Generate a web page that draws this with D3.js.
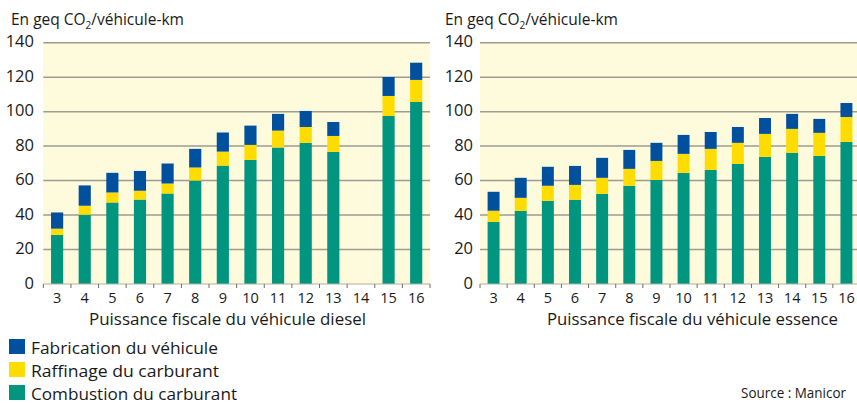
<!DOCTYPE html>
<html>
<head>
<meta charset="utf-8">
<script src="https://cdn.jsdelivr.net/npm/d3@7"></script>
<style>
  body { margin: 0; background: #fff; }
  svg { display: block; font-family: "Open Sans", "Noto Sans", sans-serif; }
</style>
</head>
<body>
<svg></svg>
<script>
// categories = puissance fiscale (CV)
let categories = ['3', '4', '5', '6', '7', '8', '9', '10', '11', '12', '13', '14', '15', '16']
let yTicks = [0, 20, 40, 60, 80, 100, 120, 140]

// diesel, geq CO2 / vehicule-km (no value for 14 CV)
let dieselCombustion = [28.5, 40.2, 47.3, 49.0, 52.5, 60.0, 68.7, 72.0, 79.2, 81.9, 76.7, 0, 97.5, 105.6]
let dieselRaffinage = [3.6, 5.2, 5.8, 5.1, 5.8, 7.6, 8.1, 8.7, 9.8, 9.2, 9.2, 0, 11.6, 12.8]
let dieselFabrication = [9.4, 11.8, 11.4, 11.5, 11.6, 10.8, 11.1, 11.2, 9.7, 9.3, 8.1, 0, 11.0, 10.0]

// essence
let essenceCombustion = [36.1, 42.5, 48.3, 48.9, 52.3, 57.0, 60.4, 64.5, 66.2, 69.7, 73.8, 76.1, 74.3, 82.4]
let essenceRaffinage = [6.4, 7.5, 8.7, 8.6, 9.3, 9.8, 11.0, 11.0, 12.2, 12.2, 13.3, 13.9, 13.4, 14.5]
let essenceFabrication = [11.0, 11.6, 11.0, 11.0, 11.6, 11.0, 10.5, 11.0, 9.8, 9.2, 9.2, 8.7, 8.1, 8.1]

let keys = ['combustion', 'raffinage', 'fabrication']
let colors = {combustion: '#00957f', raffinage: '#ffdc00', fabrication: '#00509e'}
let legendItems = [
    ['fabrication', 'Fabrication du véhicule', 187],
    ['raffinage', 'Raffinage du carburant', 188],
    ['combustion', 'Combustion du carburant', 206]
]

let width = 857
let height = 403
let plotTop = 42.7
let plotBottom = 284

let svg = d3.select('svg')
    .attr('width', width)
    .attr('height', height)

let drawChart = (comb, raff, fab, left, right, labelX, title, titleX, titleW) => {
    let rows = categories.map((c, i) => ({cat: c, combustion: comb[i], raffinage: raff[i], fabrication: fab[i]}))
    let stacked = d3.stack().keys(keys)(rows)

    let x = d3.scaleBand()
        .domain(categories)
        .range([left, right])
        .paddingInner(0.56)
        .paddingOuter(0.28)

    let y = d3.scaleLinear()
        .domain([0, 140])
        .range([plotBottom, plotTop])

    let g = svg.append('g')

    // background
    g.append('rect')
        .attr('x', left)
        .attr('y', y(140))
        .attr('width', right - left)
        .attr('height', y(0) - y(140))
        .attr('fill', '#fefadc')

    // grid
    g.selectAll('.grid')
        .data(yTicks.slice(1))
        .enter()
        .append('line')
        .attr('x1', left)
        .attr('x2', right)
        .attr('y1', (d) => y(d))
        .attr('y2', (d) => y(d))
        .attr('stroke', '#9d9b93')
        .attr('stroke-width', 1.5)

    // bars
    g.selectAll('.layer')
        .data(stacked)
        .enter()
        .append('g')
        .attr('fill', (d) => colors[d.key])
        .selectAll('rect')
        .data((d) => d)
        .enter()
        .append('rect')
        .attr('x', (d) => x(d.data.cat))
        .attr('width', x.bandwidth())
        .attr('y', (d) => y(d[1]))
        .attr('height', (d) => y(d[0]) - y(d[1]))

    // baseline + ticks at band edges
    g.append('line')
        .attr('x1', left).attr('x2', right)
        .attr('y1', y(0)).attr('y2', y(0))
        .attr('stroke', '#b5b09a')
        .attr('stroke-width', 1)
    g.selectAll('.edge')
        .data(d3.range(categories.length + 1))
        .enter()
        .append('line')
        .attr('x1', (i) => left + i * x.step())
        .attr('x2', (i) => left + i * x.step())
        .attr('y1', y(0))
        .attr('y2', y(0) + 4)
        .attr('stroke', '#6e6c66')
        .attr('stroke-width', 1)

    // x axis labels
    let xAxis = d3.axisBottom(x).tickSize(0).tickPadding(6)
    let xg = g.append('g')
        .attr('transform', `translate(0, ${y(0) + 3})`)
        .call(xAxis)
    xg.select('.domain').remove()
    xg.selectAll('text')
        .attr('font-size', 14.5)
        .attr('font-family', '"Open Sans", sans-serif')
        .attr('fill', '#1a1a1a')

    // y axis labels
    let yAxis = d3.axisLeft(y).tickValues(yTicks).tickSize(0).tickPadding(0)
    let yg = g.append('g')
        .attr('transform', `translate(${labelX}, -1)`)
        .call(yAxis)
    yg.select('.domain').remove()
    yg.selectAll('text')
        .attr('font-size', 16.5)
        .attr('font-family', '"Open Sans", sans-serif')
        .attr('fill', '#1a1a1a')

    // unit title
    let t = g.append('text')
        .attr('x', titleX)
        .attr('y', 25)
        .attr('font-size', 15.5)
        .attr('fill', '#1a1a1a')
    t.append('tspan').text('En geq CO')
    t.append('tspan').attr('font-size', 10).attr('dy', 4).text('2')
    t.append('tspan').attr('dy', -4).text('/véhicule-km')

    // axis title
    g.append('text')
        .attr('x', title[1])
        .attr('y', 325)
        .attr('font-size', 16.5)
        .attr('fill', '#1a1a1a')
        .attr('textLength', titleW)
        .attr('lengthAdjust', 'spacingAndGlyphs')
        .text(title[0])
}

drawChart(dieselCombustion, dieselRaffinage, dieselFabrication, 43.3, 430, 34,
    ['Puissance fiscale du véhicule diesel', 89], 11, 277)
drawChart(essenceCombustion, essenceRaffinage, essenceFabrication, 480, 860, 473,
    ['Puissance fiscale du véhicule essence', 547], 445, 291)

// legend
let legend = svg.append('g')
legendItems.forEach((item, i) => {
    legend.append('rect')
        .attr('x', 9)
        .attr('y', 339 + i * 23)
        .attr('width', 16)
        .attr('height', 15)
        .attr('fill', colors[item[0]])
    legend.append('text')
        .attr('x', 31)
        .attr('y', 353.5 + i * 23)
        .attr('font-size', 16)
        .attr('fill', '#1a1a1a')
        .attr('textLength', item[2])
        .attr('lengthAdjust', 'spacingAndGlyphs')
        .text(item[1])
})

svg.append('text')
    .attr('x', 741)
    .attr('y', 398)
    .attr('font-size', 15)
    .attr('fill', '#1a1a1a')
    .attr('textLength', 105)
    .attr('lengthAdjust', 'spacingAndGlyphs')
    .text('Source : Manicor')
</script>
</body>
</html>
